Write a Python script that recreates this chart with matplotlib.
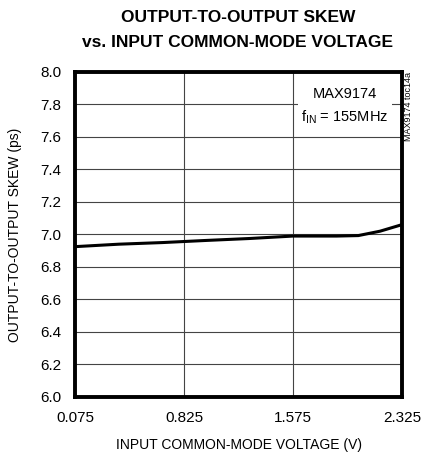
import matplotlib
matplotlib.use("Agg")
import matplotlib.pyplot as plt
from matplotlib import font_manager

names = {f.name for f in font_manager.fontManager.ttflist}
fam = ["Liberation Sans Narrow", "Liberation Sans", "DejaVu Sans"] if "Liberation Sans Narrow" in names else ["Liberation Sans", "DejaVu Sans"]
plt.rcParams['font.family'] = fam

vcm = [0.075, 0.375, 0.675, 0.975, 1.275, 1.575, 1.875, 2.025, 2.175, 2.325]
skew = [6.925, 6.94, 6.95, 6.963, 6.975, 6.99, 6.99, 6.993, 7.02, 7.06]
xticks = [0.075, 0.825, 1.575, 2.325]
xticklabels = ["0.075", "0.825", "1.575", "2.325"]
yticks = [6.0, 6.2, 6.4, 6.6, 6.8, 7.0, 7.2, 7.4, 7.6, 7.8, 8.0]

fig = plt.figure(figsize=(4.23, 4.55), dpi=100)
ax = fig.add_axes([0.178, 0.1275, 0.772, 0.7145])
ax.plot(vcm, skew, color="black", lw=2.2, zorder=3, solid_capstyle="butt")
ax.set_xlim(0.075, 2.325)
ax.set_ylim(6.0, 8.0)
ax.set_xticks(xticks)
ax.set_xticklabels(xticklabels)
ax.set_yticks(yticks)
ax.set_yticklabels([f"{v:.1f}" for v in yticks])
ax.grid(True, color="#444444", lw=0.8)
ax.tick_params(axis="y", length=0, labelsize=11, pad=10)
ax.tick_params(axis="x", length=0, labelsize=11, pad=10)
for s in ax.spines.values():
    s.set_linewidth(2.8)
ax.set_xlabel("INPUT COMMON-MODE VOLTAGE (V)", fontsize=10, labelpad=9.5)
ax.set_ylabel("OUTPUT-TO-OUTPUT SKEW (ps)", fontsize=10, labelpad=13)
fig.text(0.563, 0.9626, "OUTPUT-TO-OUTPUT SKEW",
         ha="center", va="center", fontsize=12.5, fontweight="bold")
fig.text(0.561, 0.9055, "vs. INPUT COMMON-MODE VOLTAGE",
         ha="center", va="center", fontsize=12.5, fontweight="bold")
ax.text(0.825, 0.954, "MAX9174\n$\\mathregular{f_{IN}}$ = 155MHz", transform=ax.transAxes,
        ha="center", va="top", fontsize=10.5, linespacing=1.6,
        bbox=dict(facecolor="white", edgecolor="none", pad=2.5), zorder=4)
fig.text(0.965, 0.842, "MAX9174 toc14a", rotation=90, ha="center", va="top", fontsize=6.5)
fig.savefig("out.png", dpi=100)
